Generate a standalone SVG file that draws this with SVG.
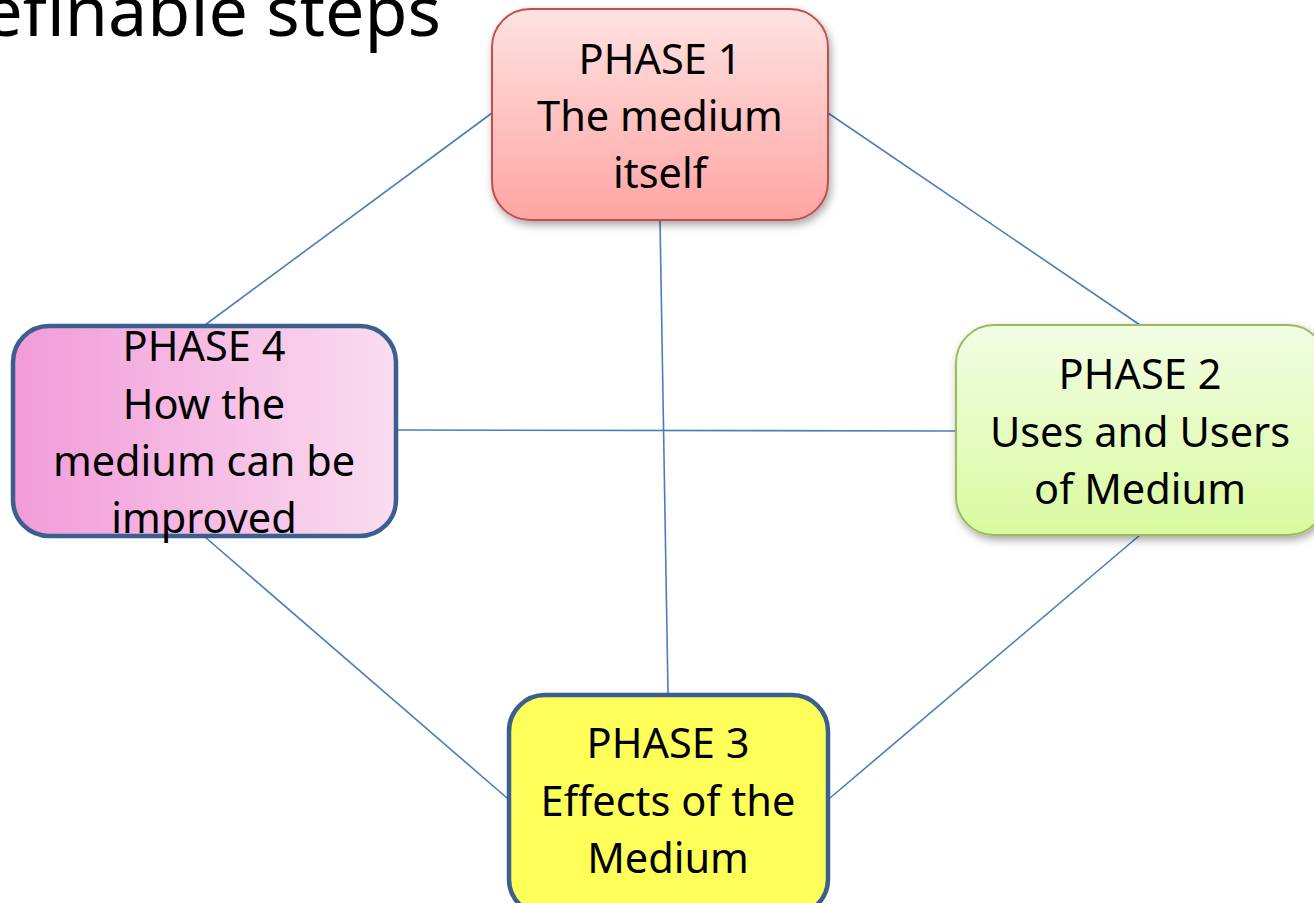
<svg xmlns="http://www.w3.org/2000/svg" width="1314" height="903" viewBox="0 0 1314 903">
<style>
.t{font-family:"Noto Sans","Open Sans",sans-serif;font-size:41.5px;fill:#000;text-anchor:middle}
.title{font-family:"Noto Sans","Open Sans",sans-serif;font-size:70px;fill:#000;text-anchor:end}
.c{stroke:#4a7ebb;stroke-width:1.6;fill:none}
</style>
<defs>
<linearGradient id="g1" x1="0" y1="0" x2="0" y2="1"><stop offset="0" stop-color="#ffe2e2"/><stop offset="1" stop-color="#ffa5a3"/></linearGradient>
<linearGradient id="g2" x1="0" y1="0" x2="0" y2="1"><stop offset="0" stop-color="#f2fde4"/><stop offset="1" stop-color="#d9fa9f"/></linearGradient>
<linearGradient id="g4" x1="0" y1="0" x2="1" y2="0"><stop offset="0" stop-color="#f29bd8"/><stop offset="1" stop-color="#f9ddf0"/></linearGradient>
<filter id="sh" x="-10%" y="-10%" width="130%" height="130%"><feDropShadow dx="2" dy="4" stdDeviation="4" flood-color="#000" flood-opacity="0.35"/></filter>
</defs>
<rect width="1314" height="903" fill="#fff"/>
<text class="title" x="441" y="36">efinable steps</text>
<g id="connectors">
<line class="c" x1="492" y1="113" x2="205" y2="325"/>
<line class="c" x1="828" y1="113" x2="1140" y2="325"/>
<line class="c" x1="660" y1="220" x2="668" y2="693"/>
<line class="c" x1="397" y1="430" x2="956" y2="431"/>
<line class="c" x1="205" y1="537" x2="507" y2="798"/>
<line class="c" x1="1140" y1="535" x2="830" y2="798"/>
</g>
<g id="phase1">
<rect x="492" y="9" width="336" height="211" rx="38" fill="url(#g1)" stroke="#c0504d" stroke-width="2" filter="url(#sh)"/>
<text class="t" x="660" y="74">PHASE 1</text>
<text class="t" x="660" y="131">The medium</text>
<text class="t" x="660" y="188">itself</text>
</g>
<g id="phase2">
<rect x="956" y="325" width="370" height="210" rx="38" fill="url(#g2)" stroke="#9bbb59" stroke-width="2" filter="url(#sh)"/>
<text class="t" x="1140" y="389">PHASE 2</text>
<text class="t" x="1140" y="447">Uses and Users</text>
<text class="t" x="1140" y="504">of Medium</text>
</g>
<g id="phase3">
<rect x="509" y="695" width="319" height="220" rx="36" fill="#ffff59" stroke="#3b6090" stroke-width="4.5"/>
<text class="t" x="668" y="758">PHASE 3</text>
<text class="t" x="668" y="816">Effects of the</text>
<text class="t" x="668" y="873">Medium</text>
</g>
<g id="phase4">
<rect x="13" y="326" width="383" height="210" rx="36" fill="url(#g4)" stroke="#3b6090" stroke-width="4.5"/>
<text class="t" x="204" y="361">PHASE 4</text>
<text class="t" x="204" y="419">How the</text>
<text class="t" x="204" y="476">medium can be</text>
<text class="t" x="204" y="533">improved</text>
</g>
</svg>
